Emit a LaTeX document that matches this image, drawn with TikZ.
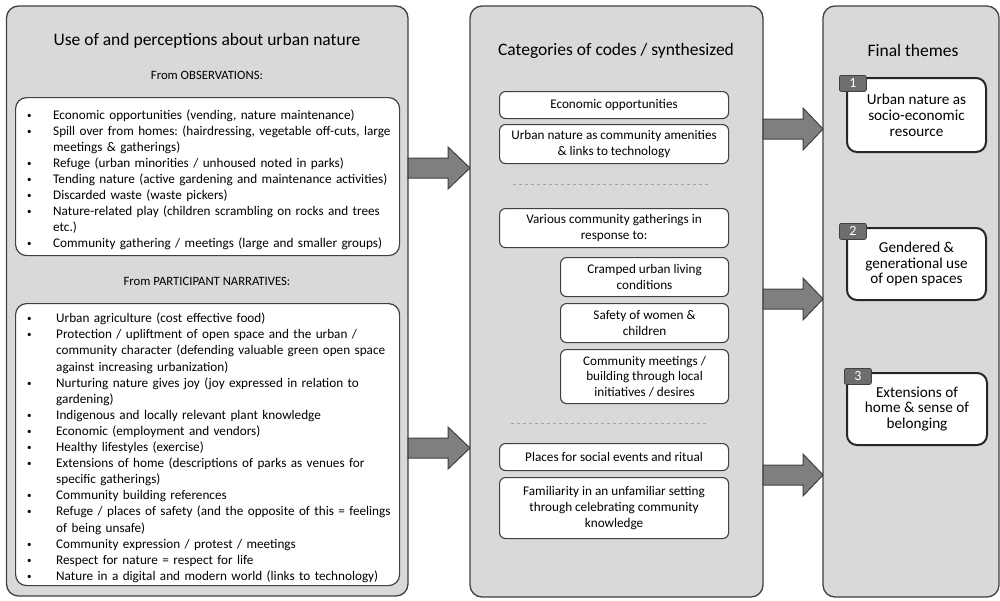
\documentclass[tikz,border=0pt]{standalone}
\usepackage{fontspec}
\setmainfont{Carlito}
\usepackage{enumitem}
\frenchspacing

\definecolor{panelgray}{HTML}{D9D9D9}
\definecolor{linegray}{HTML}{404040}
\definecolor{arrowgray}{HTML}{7F7F7F}
\definecolor{taggray}{HTML}{6E6E6E}
\definecolor{dashgray}{HTML}{A6A6A6}

\tikzstyle{panel}=[draw=linegray, fill=panelgray, line width=1.3pt, rounded corners=12pt, inner sep=0pt, outer sep=0pt, anchor=north west]
\tikzstyle{listbox}=[draw=linegray, fill=white, line width=1.2pt, rounded corners=11pt, inner sep=0pt, anchor=north west]
\tikzstyle{listtext}=[anchor=west, inner sep=0pt, text width=370pt, font=\fontsize{13.2}{15.9}\selectfont]
\tikzstyle{codebox}=[draw=linegray, fill=white, line width=1.1pt, rounded corners=6pt, inner sep=0pt, anchor=north west, align=center, font=\fontsize{13.2}{15.7}\selectfont]
\tikzstyle{themebox}=[draw=black!85, fill=white, line width=2pt, rounded corners=10pt, inner sep=0pt, anchor=north west, align=center, font=\fontsize{15.2}{15.8}\selectfont]
\tikzstyle{numtag}=[draw=linegray, fill=taggray, text=white, line width=0.8pt, rounded corners=2pt, inner sep=0pt, anchor=north west, minimum width=27pt, minimum height=16pt, font=\fontsize{14}{14}\selectfont]
\tikzstyle{arr}=[draw=linegray, fill=arrowgray, line width=1pt, line join=miter]
\tikzstyle{divider}=[dashgray, dashed, line width=0.8pt]
\tikzstyle{heading}=[font=\fontsize{17.5}{21}\selectfont]
\tikzstyle{subhead}=[font=\fontsize{12.7}{15}\selectfont]

\setlist[itemize]{label={\raisebox{1pt}{\fontsize{9}{9}\selectfont\textbullet}}, align=left, labelwidth=6pt, itemsep=0pt, topsep=0pt, parsep=0pt, partopsep=0pt}

\begin{document}
\begin{tikzpicture}[x=1pt, y=-1pt]
  \useasboundingbox (0,0) rectangle (1000,600);

  % three columns
  \node [panel, minimum width=401.5pt, minimum height=590pt] (usepanel) at (6.5,6) {};
  \node [panel, minimum width=293pt, minimum height=591pt] (catpanel) at (470,6) {};
  \node [panel, minimum width=176pt, minimum height=591pt] (themepanel) at (823,6) {};

  % left column
  \node [heading] (usetitle) at (207,41) {Use of and perceptions about urban nature};
  \node [subhead] (obshead) at (207,75) {From OBSERVATIONS:};
  \node [listbox, minimum width=384pt, minimum height=158pt] (obsbox) at (15,97) {};
  \node [listtext] (obslist) at ([xshift=12pt]obsbox.west) {\raggedright
    \begin{itemize}[leftmargin=26pt, labelsep=20pt]
      \item Economic opportunities (vending, nature maintenance)
      \item Spill over from homes: (hairdressing, vegetable off-cuts, large\\ meetings \& gatherings)
      \item Refuge (urban minorities / unhoused noted in parks)
      \item Tending nature (active gardening and maintenance activities)
      \item Discarded waste (waste pickers)
      \item Nature-related play (children scrambling on rocks and trees\\ etc.)
      \item Community gathering / meetings (large and smaller groups)
    \end{itemize}};

  \node [subhead] (narhead) at (207,281) {From PARTICIPANT NARRATIVES:};
  \node [listbox, minimum width=384pt, minimum height=282pt] (narbox) at (15,303) {};
  \node [listtext, font=\fontsize{13.2}{16.1}\selectfont] (narlist) at ([xshift=12pt]narbox.west) {\raggedright
    \begin{itemize}[leftmargin=29pt, labelsep=23pt]
      \item Urban agriculture (cost effective food)
      \item Protection / upliftment of open space and the urban /\\ community character (defending valuable green open space\\ against increasing urbanization)
      \item Nurturing nature gives joy (joy expressed in relation to\\ gardening)
      \item Indigenous and locally relevant plant knowledge
      \item Economic (employment and vendors)
      \item Healthy lifestyles (exercise)
      \item Extensions of home (descriptions of parks as venues for\\ specific gatherings)
      \item Community building references
      \item Refuge / places of safety (and the opposite of this = feelings\\ of being unsafe)
      \item Community expression / protest / meetings
      \item Respect for nature = respect for life
      \item Nature in a digital and modern world (links to technology)
    \end{itemize}};

  % middle column
  \node [heading] (cattitle) at (616,51) {Categories of codes / synthesized};
  \node [codebox, minimum width=229pt, minimum height=27pt] (econ) at (499,91) {Economic opportunities};
  \node [codebox, minimum width=229pt, minimum height=39pt] (amenity) at (499,124) {Urban nature as community amenities\\ \& links to technology};
  \draw [divider] (513,184) -- (710,184);
  \node [codebox, minimum width=229pt, minimum height=39pt] (gather) at (499,208) {Various community gatherings in\\ response to:};
  \node [codebox, minimum width=168pt, minimum height=39pt] (cramped) at (560,257) {Cramped urban living\\ conditions};
  \node [codebox, minimum width=168pt, minimum height=39pt] (safety) at (560,303) {Safety of women \&\\ children};
  \node [codebox, minimum width=168pt, minimum height=54pt] (meeting) at (560,349) {Community meetings /\\ building through local\\ initiatives / desires};
  \draw [divider] (511,423) -- (707,423);
  \node [codebox, minimum width=229pt, minimum height=27pt] (ritual) at (499,443) {Places for social events and ritual};
  \node [codebox, minimum width=229pt, minimum height=61pt] (familiar) at (499,477) {Familiarity in an unfamiliar setting\\ through celebrating community\\ knowledge};

  % right column
  \node [heading] (themetitle) at (913,50) {Final themes};
  \node [themebox, minimum width=139pt, minimum height=74pt] (themeA) at (846,77) {Urban nature as\\ socio-economic\\ resource};
  \node [themebox, minimum width=139pt, minimum height=72pt] (themeB) at (846,227) {Gendered \&\\ generational use\\ of open spaces};
  \node [themebox, minimum width=140pt, minimum height=72pt] (themeC) at (846,372) {Extensions of\\ home \& sense of\\ belonging};
  \node [numtag] (tagA) at (839,75) {1};
  \node [numtag] (tagB) at (839,223) {2};
  \node [numtag] (tagC) at (844,368) {3};

  % block arrows
  \draw [arr] (usepanel.east |- 0,158) -- ++(40,0) -- ++(0,-11) -- (catpanel.west |- 0,168) -- ++(-22,21) -- ++(0,-11) -- ++(-40,0) -- cycle;
  \draw [arr] (usepanel.east |- 0,438) -- ++(40,0) -- ++(0,-11) -- (catpanel.west |- 0,448) -- ++(-22,21) -- ++(0,-11) -- ++(-40,0) -- cycle;
  \draw [arr] (catpanel.east |- 0,119) -- ++(40,0) -- ++(0,-11) -- (themepanel.west |- 0,129) -- ++(-20,21) -- ++(0,-11) -- ++(-40,0) -- cycle;
  \draw [arr] (catpanel.east |- 0,289) -- ++(40,0) -- ++(0,-11) -- (themepanel.west |- 0,299) -- ++(-20,21) -- ++(0,-11) -- ++(-40,0) -- cycle;
  \draw [arr] (catpanel.east |- 0,465) -- ++(40,0) -- ++(0,-11) -- (themepanel.west |- 0,475) -- ++(-20,21) -- ++(0,-11) -- ++(-40,0) -- cycle;
\end{tikzpicture}
\end{document}
